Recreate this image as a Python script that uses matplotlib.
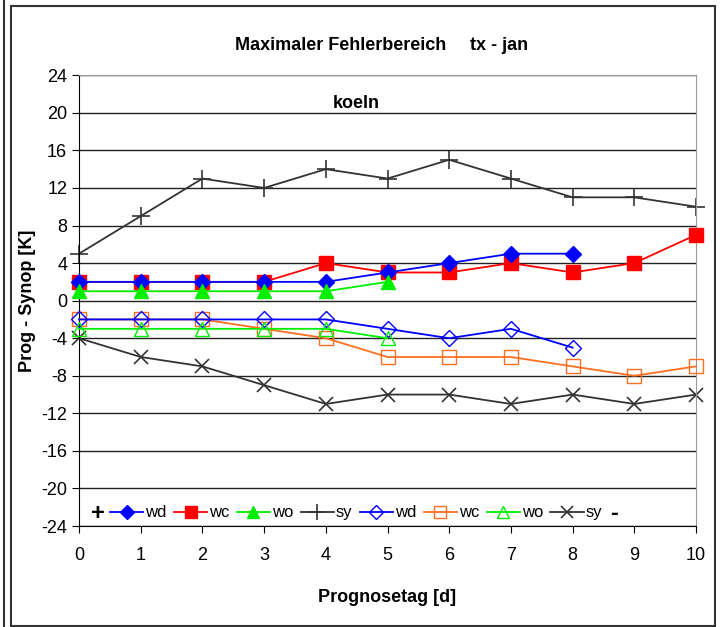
import matplotlib.pyplot as plt
from matplotlib.patches import Rectangle
from matplotlib.lines import Line2D

plt.rcParams['font.family'] = ['Liberation Sans', 'DejaVu Sans']
plt.rcParams['axes.unicode_minus'] = False

tage = [0, 1, 2, 3, 4, 5, 6, 7, 8, 9, 10]

# obere Grenzen
wd_max = [2, 2, 2, 2, 2, 3, 4, 5, 5]
wc_max = [2, 2, 2, 2, 4, 3, 3, 4, 3, 4, 7]
wo_max = [1, 1, 1, 1, 1, 2]
sy_max = [5, 9, 13, 12, 14, 13, 15, 13, 11, 11, 10]

# untere Grenzen
wd_min = [-2, -2, -2, -2, -2, -3, -4, -3, -5]
wc_min = [-2, -2, -2, -3, -4, -6, -6, -6, -7, -8, -7]
wo_min = [-3, -3, -3, -3, -3, -4]
sy_min = [-4, -6, -7, -9, -11, -10, -10, -11, -10, -11, -10]

yticks = list(range(-24, 25, 4))

fig = plt.figure(figsize=(7.25, 6.27), dpi=100)
ax = fig.add_axes([0.109, 0.161, 0.851, 0.719])

# Rahmen um das Diagramm
fig.patches.append(Rectangle((0.0145, 0.002), 0.972, 0.988, transform=fig.transFigure,
                             fill=False, edgecolor='#333333', lw=1.5))
fig.add_artist(Line2D([0.006, 0.006], [0.0, 1.0], transform=fig.transFigure,
                      color='#333333', lw=1.5))

ax.plot(tage[:len(wd_max)], wd_max, color='#0000ff', marker='D', ms=8, lw=1.3,
        label='wd', zorder=4, clip_on=False)
ax.plot(tage, wc_max, color='#ff0000', marker='s', ms=10, lw=1.3, label='wc',
        zorder=3, clip_on=False)
ax.plot(tage[:len(wo_max)], wo_max, color='#00ee00', marker='^', ms=10, lw=1.3,
        label='wo', zorder=5, clip_on=False)
ax.plot(tage, sy_max, color='#333333', marker='+', ms=13, mew=1.2, lw=1.3, label='sy',
        clip_on=False)

ax.plot(tage[:len(wd_min)], wd_min, color='#0000ff', marker='D', ms=8, mfc='none',
        lw=1.3, label='wd', zorder=4, clip_on=False)
ax.plot(tage, wc_min, color='#ff6f1f', marker='s', ms=10, mfc='none', lw=1.3,
        label='wc', zorder=3, clip_on=False)
ax.plot(tage[:len(wo_min)], wo_min, color='#00ee00', marker='^', ms=10, mfc='none',
        lw=1.3, label='wo', zorder=5, clip_on=False)
ax.plot(tage, sy_min, color='#333333', marker='x', ms=10, mew=1.2, lw=1.3, label='sy',
        clip_on=False)

ax.set_xlim(0, 10)
ax.set_ylim(-24, 24)
ax.set_xticks(tage)
ax.set_yticks(yticks)
ax.tick_params(axis='both', direction='out', length=5, labelsize=13, colors='black')
ax.tick_params(axis='x', pad=10)
ax.yaxis.grid(True, color='#222222', lw=1)
ax.set_axisbelow(True)
for s in ['top', 'right']:
    ax.spines[s].set_color('#999999')
ax.spines['left'].set_color('black')
ax.spines['bottom'].set_color('black')

ax.set_ylabel('Prog - Synop [K]', fontsize=13, fontweight='bold', labelpad=4)
ax.set_xlabel('Prognosetag [d]', fontsize=13, fontweight='bold', labelpad=18)

fig.text(0.47, 0.928, 'Maximaler Fehlerbereich', ha='center', va='center',
         fontsize=13, fontweight='bold')
fig.text(0.688, 0.928, 'tx - jan', ha='center', va='center', fontsize=13,
         fontweight='bold')
ax.text(4.5, 21, 'koeln', ha='center', va='center', fontsize=13, fontweight='bold')

ax.legend(ncol=8, loc='center', bbox_to_anchor=(0.449, 0.029), frameon=False,
          fontsize=12, handlelength=2.0, handletextpad=0.1, columnspacing=0.45,
          borderpad=0, markerscale=0.85)
ax.text(0.3, -22.7, '+', ha='center', va='center', fontsize=17, fontweight='bold')
ax.text(8.67, -22.7, '-', ha='center', va='center', fontsize=17, fontweight='bold')

plt.savefig('out.png', dpi=100)
